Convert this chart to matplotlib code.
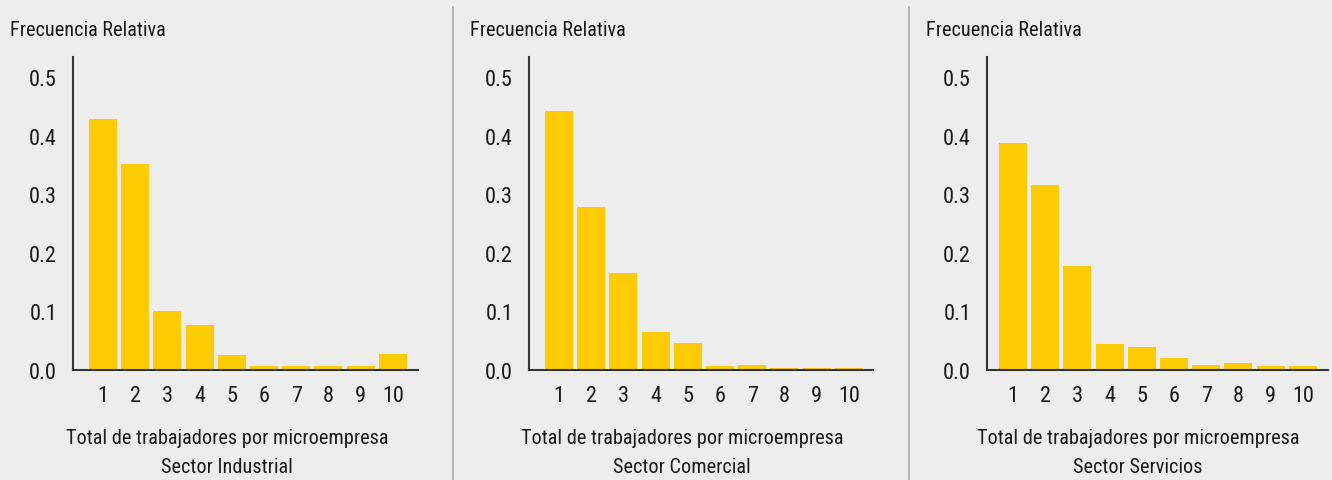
import matplotlib
matplotlib.use("Agg")
import matplotlib.pyplot as plt
from matplotlib.lines import Line2D

plt.rcParams['font.family'] = ['Roboto Condensed', 'Liberation Sans Narrow', 'Liberation Sans', 'DejaVu Sans']

categories = [1, 2, 3, 4, 5, 6, 7, 8, 9, 10]
industrial = [0.428, 0.352, 0.101, 0.077, 0.026, 0.007, 0.007, 0.007, 0.007, 0.027]
comercial = [0.442, 0.278, 0.166, 0.065, 0.046, 0.007, 0.009, 0.003, 0.003, 0.003]
servicios = [0.387, 0.316, 0.177, 0.044, 0.039, 0.020, 0.009, 0.012, 0.006, 0.006]
yticks = [0.0, 0.1, 0.2, 0.3, 0.4, 0.5]
ylabel = "Frecuencia Relativa"
xlabel = "Total de trabajadores por microempresa"
sectors = ["Sector Industrial", "Sector Comercial", "Sector Servicios"]

W, H = 1332, 481
bg = '#EDEDED'
bar_color = '#FECB05'
fig = plt.figure(figsize=(W / 100, H / 100), dpi=100, facecolor=bg)

panels = [
    (73, 418, 0.068, 10.78, industrial, 10, 227),
    (529, 873, 0.068, 10.75, comercial, 470, 682),
    (987, 1328, 0.19, 10.78, servicios, 926, 1138),
]
bottom_px, top_px = 371, 58
for (l, r, xmin, xmax, vals, ytx, xc), sector in zip(panels, sectors):
    ax = fig.add_axes([l / W, 1 - bottom_px / H, (r - l) / W, (bottom_px - top_px) / H])
    ax.set_facecolor(bg)
    ax.bar(categories, vals, width=0.87, color=bar_color)
    ax.set_xlim(xmin, xmax)
    ax.set_ylim(0, 0.534)
    ax.set_yticks(yticks)
    ax.set_yticklabels([f"{v:.1f}" for v in yticks])
    ax.set_xticks(categories)
    ax.set_xticklabels([str(c) for c in categories])
    for s in ['top', 'right']:
        ax.spines[s].set_visible(False)
    for s in ['left', 'bottom']:
        ax.spines[s].set_color('#333333')
        ax.spines[s].set_linewidth(1.5)
    ax.tick_params(length=0, labelsize=16, labelcolor='#1a1a1a')
    ax.tick_params(axis='y', pad=11.5)
    ax.tick_params(axis='x', pad=11)
    fig.text(ytx / W, 1 - 30 / H, ylabel, fontsize=14.6, color='#1a1a1a', va='center', ha='left')
    fig.text(xc / W, 1 - 438 / H, xlabel, fontsize=14.6, color='#1a1a1a', va='center', ha='center')
    fig.text(xc / W, 1 - 468 / H, sector, fontsize=14.6, color='#1a1a1a', va='center', ha='center')

for xs in [453, 909]:
    fig.add_artist(Line2D([xs / W, xs / W], [0, 1 - 8 / H], color='#AAAAAA', lw=1.2))

fig.savefig('out.png', dpi=100, facecolor=bg)
